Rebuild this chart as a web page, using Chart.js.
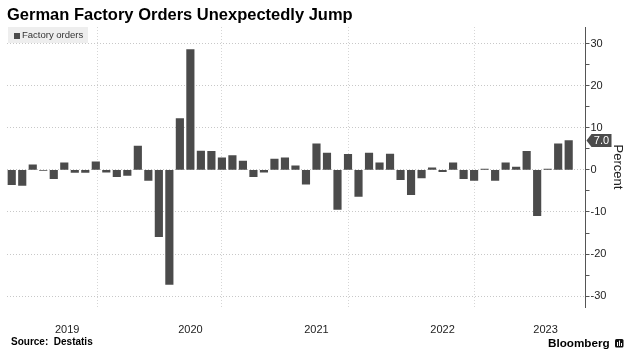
<!DOCTYPE html>
<html><head><meta charset="utf-8">
<script src="https://cdn.jsdelivr.net/npm/chart.js@4/dist/chart.umd.min.js"></script>
<style>html,body{margin:0;padding:0;background:#fff}#wrap{width:628px;height:355px;position:relative}</style>
</head><body><div id="wrap"><canvas id="c" width="628" height="355"></canvas></div>
<script>
const titleText = 'German Factory Orders Unexpectedly Jump';
const seriesName = 'Factory orders';
const sourceText = 'Source:  Destatis';
const brandText = 'Bloomberg';
const axisTitle = 'Percent';

const months = [
 '2019-01','2019-02','2019-03','2019-04','2019-05','2019-06','2019-07','2019-08','2019-09','2019-10','2019-11','2019-12',
 '2020-01','2020-02','2020-03','2020-04','2020-05','2020-06','2020-07','2020-08','2020-09','2020-10','2020-11','2020-12',
 '2021-01','2021-02','2021-03','2021-04','2021-05','2021-06','2021-07','2021-08','2021-09','2021-10','2021-11','2021-12',
 '2022-01','2022-02','2022-03','2022-04','2022-05','2022-06','2022-07','2022-08','2022-09','2022-10','2022-11','2022-12',
 '2023-01','2023-02','2023-03','2023-04','2023-05','2023-06'
];
const factoryOrders = [
 -3.5, -3.7, 1.2, -0.1, -2.1, 1.7, -0.6, -0.6, 1.9, -0.5, -1.6, -1.3,
 5.7, -2.5, -15.9, -27.2, 12.2, 28.6, 4.5, 4.4, 2.9, 3.4, 2.1, -1.6,
 -0.5, 2.6, 2.9, 1.0, -3.4, 6.2, 4.0, -9.4, 3.7, -6.3, 4.0, 1.7,
 3.8, -2.3, -5.9, -1.9, 0.5, -0.4, 1.7, -2.1, -2.5, 0.2, -2.5, 1.7,
 0.7, 4.4, -10.9, 0.2, 6.2, 7.0
];
const yearLabels = ['2019','2020','2021','2022','2023'];
const yTickValues = [-30,-25,-20,-15,-10,-5,0,5,10,15,20,25,30];
const yLabelValues = [-30,-20,-10,0,10,20,30];

const BAR = '#4b4b4b';
const X_MIN = -0.45, X_MAX = 54.6;

// year boundaries (bars sit at month end, so Dec bar ~ Jan 1 boundary)
const boundaries = [];
months.forEach((m,i)=>{ if (m.endsWith('-12')) boundaries.push(i); });
const labelPos = yearLabels.map(y=>{
  const idx = months.map((m,i)=>m.startsWith(y)?i:-1).filter(i=>i>=0);
  const start = Math.max(idx[0]-1, X_MIN);
  const end = Math.min(idx[0]+11, X_MAX);
  return (start+end)/2;
});

const decor = {
  id:'decor',
  afterDraw(chart){
    const ctx = chart.ctx;
    ctx.save();
    ctx.textAlign='left';
    ctx.fillStyle='#000';
    ctx.font='bold 16.5px "Liberation Sans", Arial, sans-serif';
    ctx.textBaseline='alphabetic';
    ctx.fillText(titleText, 7, 20);
    // legend
    ctx.fillStyle='#eeeeee';
    ctx.fillRect(8,27,80,16);
    ctx.fillStyle=BAR;
    ctx.fillRect(14,33,6,6);
    ctx.fillStyle='#333';
    ctx.font='9.5px "Liberation Sans", Arial, sans-serif';
    ctx.textBaseline='middle';
    ctx.fillText(seriesName, 22, 35.5);
    // source
    ctx.fillStyle='#000';
    ctx.textBaseline='alphabetic';
    ctx.font='bold 10px "Liberation Sans", Arial, sans-serif';
    ctx.fillText(sourceText, 11, 345);
    // brand
    ctx.font='bold 11.7px "Liberation Sans", Arial, sans-serif';
    ctx.fillText(brandText, 548, 347);
    ctx.fillStyle='#111';
    ctx.beginPath();
    if (ctx.roundRect) ctx.roundRect(615,339,8.5,8.5,1.5); else ctx.rect(615,339,8.5,8.5);
    ctx.fill();
    ctx.fillStyle='#fff';
    ctx.fillRect(617,342,1,4); ctx.fillRect(619,340.5,1,5.5); ctx.fillRect(621,343,1,3);
    // last value tag
    const last = factoryOrders[factoryOrders.length-1];
    const y = chart.scales.y.getPixelForValue(last);
    const x0 = chart.chartArea.right + 1;
    ctx.fillStyle='#4b4b4b';
    ctx.beginPath();
    ctx.moveTo(x0, y);
    ctx.lineTo(x0+5, y-6.5);
    ctx.lineTo(x0+25, y-6.5);
    ctx.lineTo(x0+25, y+6.5);
    ctx.lineTo(x0+5, y+6.5);
    ctx.closePath();
    ctx.fill();
    ctx.fillStyle='#fff';
    ctx.textAlign='center';
    ctx.textBaseline='middle';
    ctx.font='11px "Liberation Sans", Arial, sans-serif';
    ctx.fillText(last.toFixed(1), x0+15, y+0.5);
    ctx.restore();
  }
};

new Chart(document.getElementById('c'), {
  type:'bar',
  data:{
    datasets:[{
      label: seriesName,
      data: factoryOrders.map((v,i)=>({x:i, y:v})),
      backgroundColor: BAR,
      borderWidth: 0,
      barThickness: 7.5
    }]
  },
  options:{
    responsive:false,
    animation:false,
    events:[],
    layout:{padding:{top:27,left:7,right:0,bottom:0}},
    plugins:{legend:{display:false},tooltip:{enabled:false},title:{display:false}},
    scales:{
      x:{
        type:'linear',
        min:X_MIN, max:X_MAX,
        offset:false,
        afterFit(s){ s.height = 48; },
        afterBuildTicks(s){
          const t = [];
          labelPos.forEach(v=>t.push({value:v}));
          boundaries.forEach(v=>t.push({value:v}));
          t.sort((a,b)=>a.value-b.value);
          s.ticks = t;
        },
        ticks:{
          autoSkip:false, maxRotation:0, minRotation:0, padding:16,
          color:'#222',
          font:{family:'"Liberation Sans", Arial, sans-serif', size:11},
          callback(v){ const k = labelPos.indexOf(v); return k>=0 ? yearLabels[k] : ''; }
        },
        grid:{
          drawTicks:false,
          lineWidth:1,
          color(c){ return (c.tick && boundaries.includes(c.tick.value)) ? '#d6d6d6' : 'rgba(0,0,0,0)'; }
        },
        border:{display:false, dash:[1,2]}
      },
      y:{
        position:'right',
        min:-32.6, max:34,
        afterFit(s){ s.width = 42.5; },
        afterBuildTicks(s){ s.ticks = yTickValues.map(v=>({value:v})); },
        ticks:{
          autoSkip:false, padding:1,
          color:'#222',
          font:{family:'"Liberation Sans", Arial, sans-serif', size:11},
          callback(v){ return yLabelValues.includes(v) ? String(v) : ''; }
        },
        grid:{
          drawTicks:true, tickLength:4,
          tickColor:'#555',
          lineWidth:1,
          color(c){ return (c.tick && yLabelValues.includes(c.tick.value)) ? '#c8c8c8' : 'rgba(0,0,0,0)'; }
        },
        border:{display:true, color:'#555', width:1, dash:[1,2]},
        title:{
          display:true, text:axisTitle, color:'#222',
          font:{family:'"Liberation Sans", Arial, sans-serif', size:13},
          padding:{top:3,bottom:0}
        }
      }
    }
  },
  plugins:[decor]
});
</script></body></html>
